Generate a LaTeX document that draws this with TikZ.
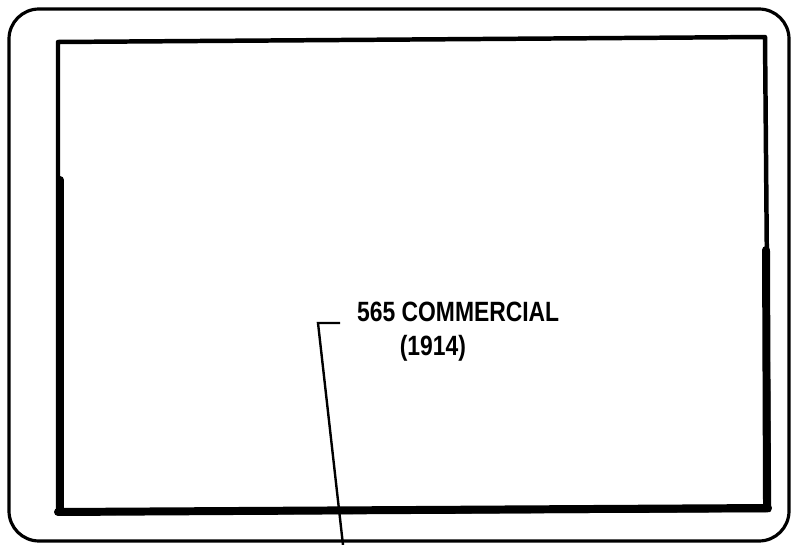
\documentclass[tikz,border=0pt]{standalone}
\usepackage{fontspec}
\setmainfont{Liberation Sans}
\usetikzlibrary{positioning,calc}
\tikzset{
  frame/.style  = {draw=black, line width=3.2pt, rounded corners=30bp},
  window/.style = {draw=black, line width=4.5pt, line join=round},
  heavy/.style  = {draw=black, line width=8pt, line cap=round},
  leader/.style = {draw=black, line width=2.4pt},
  label/.style  = {align=left, font=\fontsize{28}{34}\selectfont\bfseries, inner sep=0pt, xscale=0.82},
}

\begin{document}
\begin{tikzpicture}[x=1bp, y=-1bp]
  \useasboundingbox (0,0) rectangle (794,545);
  % outer card
  \draw[frame] (9,9) rectangle (789,541);
  % inner frame
  \draw[window] (58,42) -- (765,37) -- (769,510) -- (58,513) -- cycle;
  \draw[heavy] (60,180) -- (60,511);
  \draw[heavy] (58,512) -- (768,508);
  \draw[heavy] (766,250) -- (767,506);

  \node[label, anchor=north west] (addr) at (357,302) {565 COMMERCIAL\\\hspace*{52bp}(1914)};
  \coordinate (tick) at (318,323);
  \coordinate (foot) at (343,545);
  \draw[leader] ($(tick)+(22,0)$) -- (tick) -- (foot);
\end{tikzpicture}
\end{document}
